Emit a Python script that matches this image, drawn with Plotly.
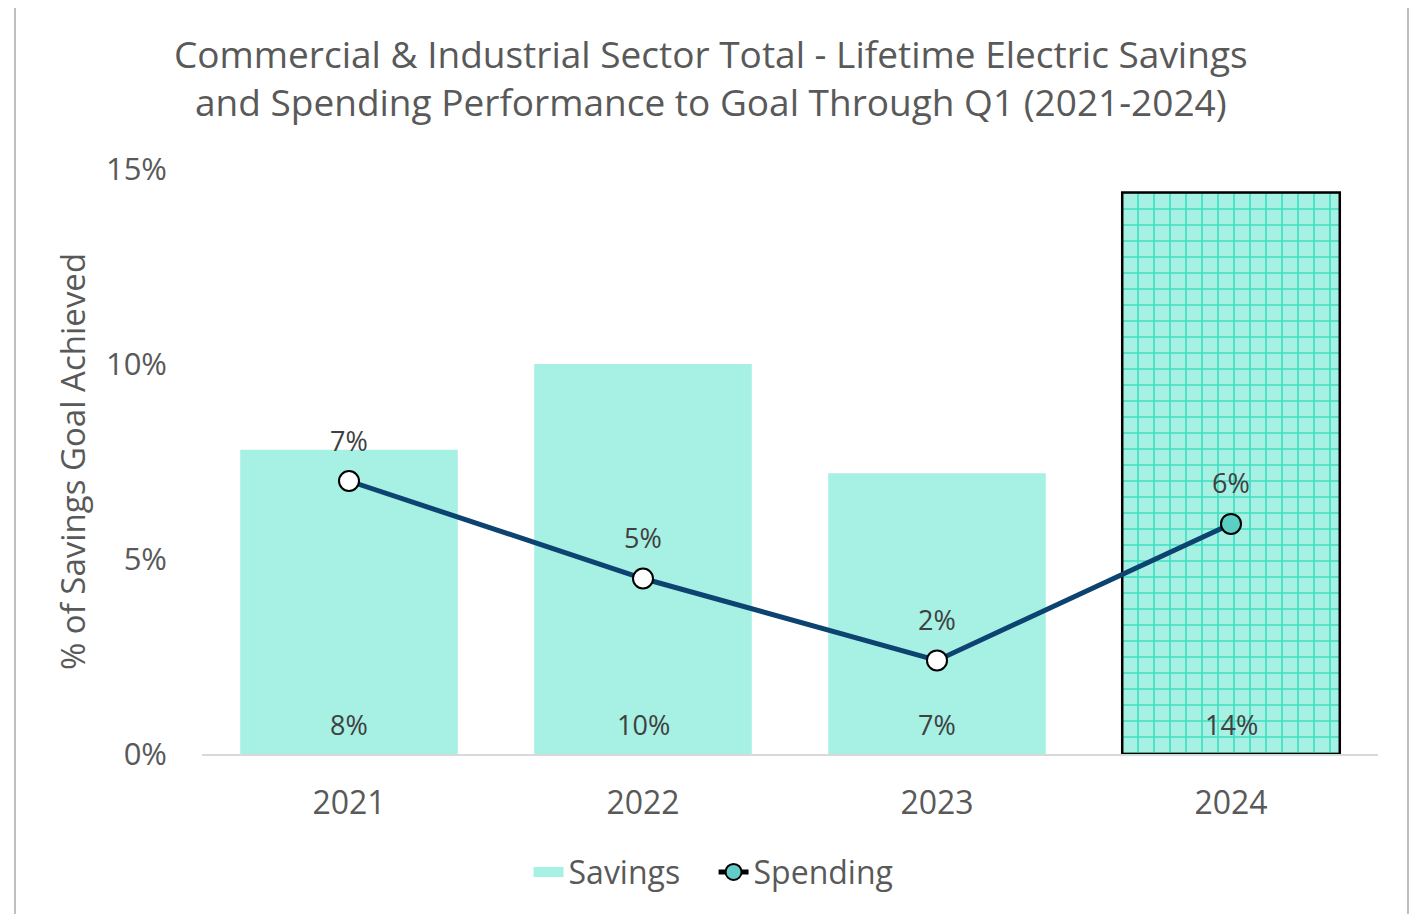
import plotly.graph_objects as go

years = ["2021", "2022", "2023", "2024"]
savings = [0.078, 0.100, 0.072, 0.144]
savings_labels = ["8%", "10%", "7%", "14%"]
spending = [0.070, 0.045, 0.024, 0.059]
spending_labels = ["7%", "5%", "2%", "6%"]
y_ticks = [0, 0.05, 0.10, 0.15]
y_tick_labels = ["0%", "5%", "10%", "15%"]

FONT = "Open Sans"
TXT = "#595959"
LBL = "#404040"
BAR = "#A6F0E4"

fig = go.Figure()
fig.add_trace(go.Bar(
    x=years, y=savings, name="Savings",
    marker=dict(
        color=BAR,
        line=dict(color="black", width=[0, 0, 0, 2.5]),
        pattern=dict(shape=["", "", "", "+"], fgcolor="#3FE0C2", bgcolor=BAR,
                     size=16, solidity=0.2, fillmode="replace"),
    ),
    showlegend=False,
))
fig.add_trace(go.Scatter(
    x=[years[0]], y=[None], name="Savings", mode="lines",
    line=dict(color=BAR, width=20),
))
fig.add_trace(go.Scatter(
    x=years, y=spending, name="Spending", mode="lines+markers",
    line=dict(color="#0D4370", width=5),
    marker=dict(size=20, color=["white", "white", "white", "#5CCFC4"],
                line=dict(color="black", width=2)),
    showlegend=False,
))
fig.add_trace(go.Scatter(
    x=[years[0]], y=[None], name="Spending", mode="lines+markers",
    line=dict(color="black", width=5),
    marker=dict(size=20, color="#63CBC8", line=dict(color="black", width=2)),
))

annotations = []
for i, lab in enumerate(savings_labels):
    annotations.append(dict(x=i, y=0, xref="x", yref="y", text=lab, showarrow=False, yshift=30,
                            font=dict(size=27, color=LBL, family=FONT)))
for i, (v, lab) in enumerate(zip(spending, spending_labels)):
    annotations.append(dict(x=i, y=v, xref="x", yref="y", text=lab, showarrow=False, yshift=41,
                            font=dict(size=27, color=LBL, family=FONT)))

fig.update_layout(
    width=1417, height=914,
    paper_bgcolor="white", plot_bgcolor="white",
    margin=dict(l=194, r=47, t=161, b=168),
    font=dict(family=FONT, color=TXT),
    title=dict(
        text="Commercial & Industrial Sector Total - Lifetime Electric Savings<br>and Spending Performance to Goal Through Q1 (2021-2024)",
        x=0.496, xanchor="center", yref="container", y=0.934, yanchor="middle",
        font=dict(size=37, color=TXT, family=FONT),
    ),
    bargap=0.26,
    xaxis=dict(type="category", range=[-0.5, 3.5], showgrid=False, showline=True,
               linecolor="#D9D9D9", linewidth=2,
               tickfont=dict(size=32, color=TXT), ticks="", ticklabelstandoff=20),
    yaxis=dict(range=[0, 0.15], tickvals=y_ticks, ticktext=y_tick_labels,
               showgrid=False, zeroline=False, showline=False,
               tickfont=dict(size=31, color=TXT), ticklabelstandoff=34,
               title=dict(text="% of Savings Goal Achieved", font=dict(size=33, color=TXT), standoff=10)),
    legend=dict(orientation="h", x=0.435, xanchor="center", y=-0.155, yanchor="top",
                font=dict(size=32, color=TXT), tracegroupgap=0, entrywidth=140),
    annotations=annotations,
    shapes=[dict(type="rect", xref="paper", yref="paper",
                 x0=-0.159, x1=1.0255, y0=-0.29, y1=1.2786,
                 line=dict(color="#BFBFBF", width=2), fillcolor="rgba(0,0,0,0)", layer="below")],
)

fig.write_html("out.html")
